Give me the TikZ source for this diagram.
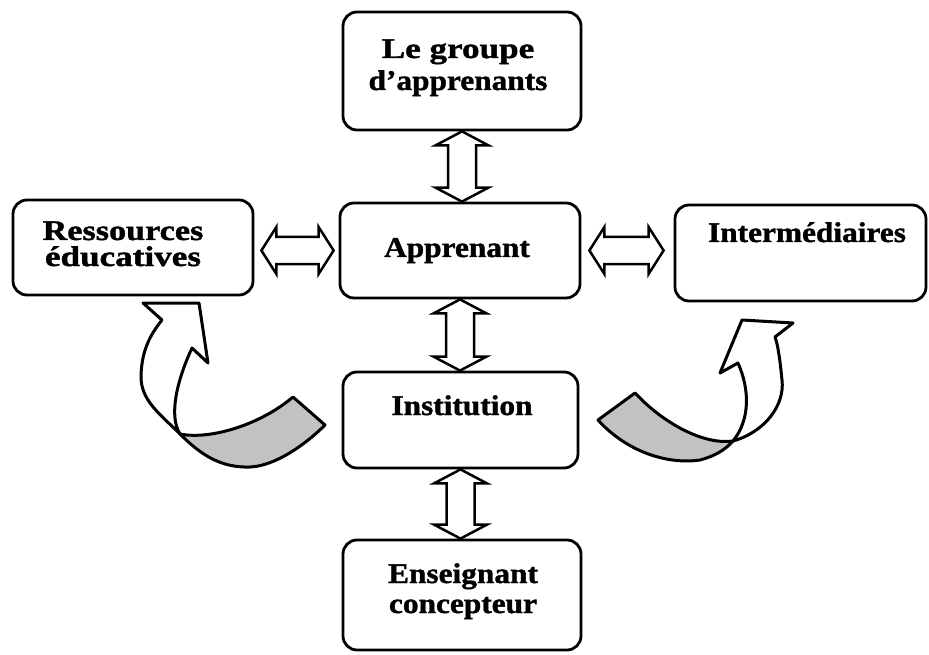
\documentclass[tikz,border=0pt]{standalone}
\usepackage{fontspec}
\setmainfont{Liberation Serif}[FakeStretch=1.1, BoldFeatures={FakeBold=1.3}]
\usepackage{graphicx}
\usetikzlibrary{calc}

\newcommand{\widen}[2]{\scalebox{#1}[1]{#2}}

\tikzset{
  box/.style={draw, line width=2.8pt, rounded corners=14pt, inner sep=0pt},
  lbl/.style={font=\fontsize{28.5}{30}\selectfont\bfseries, inner sep=0pt, anchor=base},
  % vertical two-headed block arrow, from an upper point to a lower one
  dblv/.style={draw, line width=2.5pt, line join=miter, fill=white,
    to path={let \p1=(\tikztostart), \p2=(\tikztotarget) in
      (\x1,\y1) -- (\x1+26.5pt,\y1-14pt) -- (\x1+14pt,\y1-14pt)
      -- (\x1+14pt,\y2+14pt) -- (\x1+26.5pt,\y2+14pt) -- (\x1,\y2)
      -- (\x1-26.5pt,\y2+14pt) -- (\x1-14pt,\y2+14pt)
      -- (\x1-14pt,\y1-14pt) -- (\x1-26.5pt,\y1-14pt) -- cycle}},
  % horizontal two-headed block arrow, from a left point to a right one
  dblh/.style={draw, line width=2.5pt, line join=miter, fill=white,
    to path={let \p1=(\tikztostart), \p2=(\tikztotarget) in
      (\x1,\y1) -- (\x1+15pt,\y1+23.5pt) -- (\x1+15pt,\y1+13.5pt)
      -- (\x2-15pt,\y1+13.5pt) -- (\x2-15pt,\y1+23.5pt) -- (\x2,\y1)
      -- (\x2-15pt,\y1-23.5pt) -- (\x2-15pt,\y1-13.5pt)
      -- (\x1+15pt,\y1-13.5pt) -- (\x1+15pt,\y1-23.5pt) -- cycle}},
  ribbon/.style={draw, line width=3pt, line join=round, fill=white},
  backside/.style={draw, line width=3pt, line join=round, fill=black!24},
}

\begin{document}
\begin{tikzpicture}[x=1pt, y=-1pt]
  \useasboundingbox (0,0) rectangle (929,655);

  % boxes
  \node[box, minimum width=238, minimum height=118] (grp)  at (462,71)    {};
  \node[box, minimum width=240, minimum height=95]  (app)  at (460,250.5) {};
  \node[box, minimum width=240, minimum height=95]  (res)  at (133,247.5) {};
  \node[box, minimum width=251, minimum height=96]  (int)  at (800.5,253) {};
  \node[box, minimum width=235, minimum height=96]  (inst) at (460.5,420) {};
  \node[box, minimum width=238, minimum height=110] (ens)  at (462,595)   {};

  % labels
  \node[lbl] (grpA)  at (458,58)  {\widen{1.12}{Le groupe}};
  \node[lbl] (grpB)  at (458,90)  {d’apprenants};
  \node[lbl] (appT)  at (457,257) {Apprenant};
  \node[lbl] (resA)  at (123,240) {\widen{1.09}{Ressources}};
  \node[lbl] (resB)  at (123,266) {\widen{1.12}{éducatives}};
  \node[lbl] (intT)  at (807,242) {Intermédiaires};
  \node[lbl] (instT) at (462,415) {Institution};
  \node[lbl] (ensA)  at (463,583) {Enseignant};
  \node[lbl] (ensB)  at (463,613) {concepteur};

  % two-headed links
  \draw[dblv] (grp.south) to (app.north);
  \draw[dblv] (app.south) to (inst.north);
  \draw[dblv] (inst.south) to (ens.north);
  \draw[dblh] ($(res.east |- app.center)+(7,0)$) to ($(app.west)+(-5,0)$);
  \draw[dblh] ($(app.east)+(8,0)$) to ($(int.west |- app.east)+(-10,0)$);

  % left curved arrow: shaded back of the twisted band, then its front face
  \draw[backside] (180,434) .. controls (200,454) and (220,468) .. (250,467)
    .. controls (275,466) and (305,445) .. (325,425) -- (293,397)
    .. controls (260,425) and (210,440) .. (180,434) -- cycle;
  \draw[ribbon] (143,303) -- (199,303) -- (208,363) -- (192,348)
    .. controls (178,378) and (168,415) .. (180,434)
    .. controls (160,414) and (140,400) .. (141,375)
    .. controls (142,350) and (150,335) .. (162,320) -- cycle;

  % right curved arrow
  \draw[backside] (733,441) .. controls (705,445) and (665,425) .. (635,393)
    -- (598,420) .. controls (625,450) and (665,465) .. (700,460)
    .. controls (715,456) and (725,450) .. (733,441) -- cycle;
  \draw[ribbon] (742,320) -- (720,373) -- (738,363)
    .. controls (750,390) and (750,420) .. (733,441)
    .. controls (765,432) and (785,405) .. (782,380)
    .. controls (780,360) and (778,345) .. (775,337) -- (793,323) -- cycle;
\end{tikzpicture}
\end{document}
